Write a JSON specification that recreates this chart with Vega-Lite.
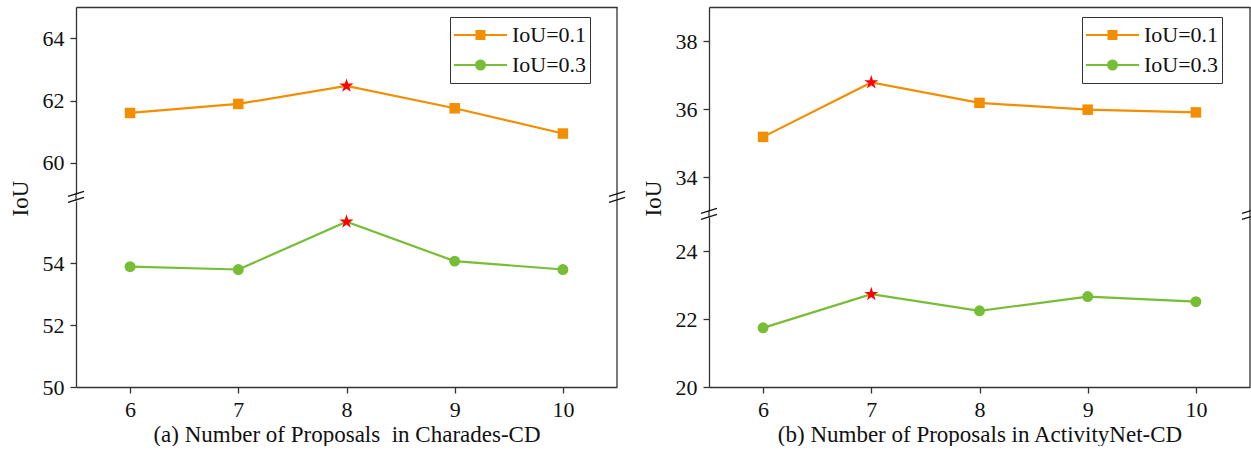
{
  "$schema": "https://vega.github.io/schema/vega-lite/v6.json",
  "padding": {"left": 9, "top": 6, "right": 0, "bottom": 0},
  "background": "white",
  "config": {
    "font": "Liberation Serif",
    "view": {"stroke": null},
    "axis": {
      "labelFont": "Liberation Serif", "titleFont": "Liberation Serif",
      "labelFontSize": 22, "titleFontSize": 23, "titleFontWeight": "normal",
      "labelColor": "#111111", "titleColor": "#111111",
      "domainColor": "#333333", "domainWidth": 1.3, "tickColor": "#333333", "tickWidth": 1.3,
      "tickSize": 6, "grid": false
    },
    "legend": {"labelFont": "Liberation Serif", "labelFontSize": 22, "labelColor": "#111111"}
  },
  "spacing": 16,
  "resolve": {"scale": {"y": "independent", "color": "independent", "x": "independent"}, "legend": {"color": "independent"}},
  "hconcat": [
    {
      "spacing": 7,
      "bounds": "flush",
      "data": {"values": [
        {"series": "IoU=0.1", "proposals": 6, "iou": 61.6, "best": 0},
        {"series": "IoU=0.1", "proposals": 7, "iou": 61.89, "best": 0},
        {"series": "IoU=0.1", "proposals": 8, "iou": 62.47, "best": 1},
        {"series": "IoU=0.1", "proposals": 9, "iou": 61.75, "best": 0},
        {"series": "IoU=0.1", "proposals": 10, "iou": 60.94, "best": 0},
        {"series": "IoU=0.3", "proposals": 6, "iou": 53.88, "best": 0},
        {"series": "IoU=0.3", "proposals": 7, "iou": 53.79, "best": 0},
        {"series": "IoU=0.3", "proposals": 8, "iou": 55.33, "best": 1},
        {"series": "IoU=0.3", "proposals": 9, "iou": 54.06, "best": 0},
        {"series": "IoU=0.3", "proposals": 10, "iou": 53.79, "best": 0}
      ]},
      "resolve": {"scale": {"y": "independent", "color": "independent"}},
      "vconcat": [
        {
          "width": 541, "height": 187,
          "transform": [{"filter": "datum.series == 'IoU=0.1'"}],
          "layer": [
            {
              "mark": {"type": "line", "strokeWidth": 2.2},
              "encoding": {
                "x": {"field": "proposals", "type": "quantitative", "scale": {"domain": [5.5, 10.5], "nice": false, "zero": false},
                      "axis": {"orient": "top", "labels": false, "ticks": false, "title": null}},
                "y": {"field": "iou", "type": "quantitative", "scale": {"domain": [59, 65], "nice": false, "zero": false},
                      "axis": {"values": [60, 62, 64], "title": "IoU", "labelPadding": 6, "titlePadding": 10, "titleY": 191}},
                "color": {"field": "series", "type": "nominal", "scale": {"domain": ["IoU=0.1", "IoU=0.3"], "range": ["#f28e00", "#77bd35"]},
                          "legend": {"title": null, "orient": "none", "legendX": 374, "legendY": 10, "symbolSize": 2809, "symbolStrokeWidth": 2,
                                     "clipHeight": 30, "labelOffset": 4, "padding": 3, "rowPadding": 0,
                                     "fillColor": "white", "strokeColor": "#333333",
                                     "encode": {"symbols": {"update": {
                                       "shape": {"signal": "datum.value === 'IoU=0.1' ? 'M -1 0 L 1 0 M -0.15 -0.15 L 0.15 -0.15 L 0.15 0.15 L -0.15 0.15 Z' : 'M -1 0 L 1 0 M -0.17 0 A 0.17 0.17 0 1 0 0.17 0 A 0.17 0.17 0 1 0 -0.17 0 Z'"},
                                       "fill": {"signal": "datum.value === 'IoU=0.1' ? '#f28e00' : '#77bd35'"},
                                       "stroke": {"signal": "datum.value === 'IoU=0.1' ? '#f28e00' : '#77bd35'"},
                                       "fillOpacity": {"value": 1}, "opacity": {"value": 1}
                                     }}}}}
              }
            },
            {
              "transform": [{"filter": "datum.best == 0"}],
              "mark": {"type": "point", "shape": "square", "filled": true, "opacity": 1, "size": 110},
              "encoding": {
                "x": {"field": "proposals", "type": "quantitative"},
                "y": {"field": "iou", "type": "quantitative"},
                "color": {"field": "series", "type": "nominal"}
              }
            },
            {
              "transform": [{"filter": "datum.best == 1"}],
              "mark": {"type": "point", "shape": "M 0 -1 L 0.2245 -0.309 L 0.951 -0.309 L 0.363 0.118 L 0.588 0.809 L 0 0.382 L -0.588 0.809 L -0.363 0.118 L -0.951 -0.309 L -0.2245 -0.309 Z", "filled": true, "color": "#ff0000", "opacity": 1, "size": 220},
              "encoding": {
                "x": {"field": "proposals", "type": "quantitative"},
                "y": {"field": "iou", "type": "quantitative"}
              }
            },
            {
              "data": {"values": [{"edge": 10.5}]},
              "mark": {"type": "rule", "color": "#333333", "strokeWidth": 1.3},
              "encoding": {
                "x": {"field": "edge", "type": "quantitative"},
                "y": {"datum": 59, "type": "quantitative"},
                "y2": {"datum": 65}
              }
            }
          ]
        },
        {
          "width": 541, "height": 186,
          "transform": [{"filter": "datum.series == 'IoU=0.3'"}],
          "layer": [
            {
              "mark": {"type": "line", "strokeWidth": 2.2},
              "encoding": {
                "x": {"field": "proposals", "type": "quantitative", "scale": {"domain": [5.5, 10.5], "nice": false, "zero": false},
                      "axis": {"values": [6, 7, 8, 9, 10], "format": "d", "title": "(a) Number of Proposals\u00a0 in Charades-CD", "labelPadding": 6, "titlePadding": 3}},
                "y": {"field": "iou", "type": "quantitative", "scale": {"domain": [50, 56], "nice": false, "zero": false},
                      "axis": {"values": [50, 52, 54], "title": "IoU", "titleOpacity": 0, "labelPadding": 6, "titlePadding": 10}},
                "color": {"field": "series", "type": "nominal", "scale": {"domain": ["IoU=0.1", "IoU=0.3"], "range": ["#f28e00", "#77bd35"]}, "legend": null}
              }
            },
            {
              "transform": [{"filter": "datum.best == 0"}],
              "mark": {"type": "point", "shape": "circle", "filled": true, "opacity": 1, "size": 120},
              "encoding": {
                "x": {"field": "proposals", "type": "quantitative"},
                "y": {"field": "iou", "type": "quantitative"},
                "color": {"field": "series", "type": "nominal"}
              }
            },
            {
              "transform": [{"filter": "datum.best == 1"}],
              "mark": {"type": "point", "shape": "M 0 -1 L 0.2245 -0.309 L 0.951 -0.309 L 0.363 0.118 L 0.588 0.809 L 0 0.382 L -0.588 0.809 L -0.363 0.118 L -0.951 -0.309 L -0.2245 -0.309 Z", "filled": true, "color": "#ff0000", "opacity": 1, "size": 220},
              "encoding": {
                "x": {"field": "proposals", "type": "quantitative"},
                "y": {"field": "iou", "type": "quantitative"}
              }
            },
            {
              "data": {"values": [{"edge": 10.5}]},
              "mark": {"type": "rule", "color": "#333333", "strokeWidth": 1.3},
              "encoding": {
                "x": {"field": "edge", "type": "quantitative"},
                "y": {"datum": 50, "type": "quantitative"},
                "y2": {"datum": 56}
              }
            },
            {
              "data": {"values": [{"edge": 5.5}, {"edge": 10.5}]},
              "mark": {"type": "rule", "color": "#333333", "strokeWidth": 1.3},
              "encoding": {
                "x": {"field": "edge", "type": "quantitative"},
                "y": {"datum": 56, "type": "quantitative"},
                "y2": {"datum": 56.24}
              }
            },
            {
              "data": {"values": [{"edge": 5.5}, {"edge": 10.5}]},
              "mark": {"type": "rule", "color": "#111111", "strokeWidth": 1.3, "xOffset": -8, "x2Offset": 8, "yOffset": -0.5, "y2Offset": -5.5},
              "encoding": {
                "x": {"field": "edge", "type": "quantitative"},
                "x2": {"field": "edge"},
                "y": {"datum": 56.13, "type": "quantitative"},
                "y2": {"datum": 56.13}
              }
            },
            {
              "data": {"values": [{"edge": 5.5}, {"edge": 10.5}]},
              "mark": {"type": "rule", "color": "#111111", "strokeWidth": 1.3, "xOffset": -8, "x2Offset": 8, "yOffset": 5.5, "y2Offset": 0.5},
              "encoding": {
                "x": {"field": "edge", "type": "quantitative"},
                "x2": {"field": "edge"},
                "y": {"datum": 56.13, "type": "quantitative"},
                "y2": {"datum": 56.13}
              }
            }
          ]
        }
      ]
    },
    {
      "spacing": 6,
      "bounds": "flush",
      "data": {"values": [
        {"series": "IoU=0.1", "proposals": 6, "iou": 35.18, "best": 0},
        {"series": "IoU=0.1", "proposals": 7, "iou": 36.78, "best": 1},
        {"series": "IoU=0.1", "proposals": 8, "iou": 36.18, "best": 0},
        {"series": "IoU=0.1", "proposals": 9, "iou": 35.98, "best": 0},
        {"series": "IoU=0.1", "proposals": 10, "iou": 35.9, "best": 0},
        {"series": "IoU=0.3", "proposals": 6, "iou": 21.74, "best": 0},
        {"series": "IoU=0.3", "proposals": 7, "iou": 22.73, "best": 1},
        {"series": "IoU=0.3", "proposals": 8, "iou": 22.24, "best": 0},
        {"series": "IoU=0.3", "proposals": 9, "iou": 22.66, "best": 0},
        {"series": "IoU=0.3", "proposals": 10, "iou": 22.51, "best": 0}
      ]},
      "resolve": {"scale": {"y": "independent", "color": "independent"}},
      "vconcat": [
        {
          "width": 541, "height": 204,
          "transform": [{"filter": "datum.series == 'IoU=0.1'"}],
          "layer": [
            {
              "mark": {"type": "line", "strokeWidth": 2.2},
              "encoding": {
                "x": {"field": "proposals", "type": "quantitative", "scale": {"domain": [5.5, 10.5], "nice": false, "zero": false},
                      "axis": {"orient": "top", "labels": false, "ticks": false, "title": null}},
                "y": {"field": "iou", "type": "quantitative", "scale": {"domain": [33, 39], "nice": false, "zero": false},
                      "axis": {"values": [34, 36, 38], "title": "IoU", "labelPadding": 6, "titlePadding": 10, "titleY": 191}},
                "color": {"field": "series", "type": "nominal", "scale": {"domain": ["IoU=0.1", "IoU=0.3"], "range": ["#f28e00", "#77bd35"]},
                          "legend": {"title": null, "orient": "none", "legendX": 373, "legendY": 10, "symbolSize": 2809, "symbolStrokeWidth": 2,
                                     "clipHeight": 30, "labelOffset": 4, "padding": 3, "rowPadding": 0,
                                     "fillColor": "white", "strokeColor": "#333333",
                                     "encode": {"symbols": {"update": {
                                       "shape": {"signal": "datum.value === 'IoU=0.1' ? 'M -1 0 L 1 0 M -0.15 -0.15 L 0.15 -0.15 L 0.15 0.15 L -0.15 0.15 Z' : 'M -1 0 L 1 0 M -0.17 0 A 0.17 0.17 0 1 0 0.17 0 A 0.17 0.17 0 1 0 -0.17 0 Z'"},
                                       "fill": {"signal": "datum.value === 'IoU=0.1' ? '#f28e00' : '#77bd35'"},
                                       "stroke": {"signal": "datum.value === 'IoU=0.1' ? '#f28e00' : '#77bd35'"},
                                       "fillOpacity": {"value": 1}, "opacity": {"value": 1}
                                     }}}}}
              }
            },
            {
              "transform": [{"filter": "datum.best == 0"}],
              "mark": {"type": "point", "shape": "square", "filled": true, "opacity": 1, "size": 110},
              "encoding": {
                "x": {"field": "proposals", "type": "quantitative"},
                "y": {"field": "iou", "type": "quantitative"},
                "color": {"field": "series", "type": "nominal"}
              }
            },
            {
              "transform": [{"filter": "datum.best == 1"}],
              "mark": {"type": "point", "shape": "M 0 -1 L 0.2245 -0.309 L 0.951 -0.309 L 0.363 0.118 L 0.588 0.809 L 0 0.382 L -0.588 0.809 L -0.363 0.118 L -0.951 -0.309 L -0.2245 -0.309 Z", "filled": true, "color": "#ff0000", "opacity": 1, "size": 220},
              "encoding": {
                "x": {"field": "proposals", "type": "quantitative"},
                "y": {"field": "iou", "type": "quantitative"}
              }
            },
            {
              "data": {"values": [{"edge": 10.5}]},
              "mark": {"type": "rule", "color": "#333333", "strokeWidth": 1.3},
              "encoding": {
                "x": {"field": "edge", "type": "quantitative"},
                "y": {"datum": 33, "type": "quantitative"},
                "y2": {"datum": 39}
              }
            }
          ]
        },
        {
          "width": 541, "height": 170,
          "transform": [{"filter": "datum.series == 'IoU=0.3'"}],
          "layer": [
            {
              "mark": {"type": "line", "strokeWidth": 2.2},
              "encoding": {
                "x": {"field": "proposals", "type": "quantitative", "scale": {"domain": [5.5, 10.5], "nice": false, "zero": false},
                      "axis": {"values": [6, 7, 8, 9, 10], "format": "d", "title": "(b) Number of Proposals in ActivityNet-CD", "labelPadding": 6, "titlePadding": 3}},
                "y": {"field": "iou", "type": "quantitative", "scale": {"domain": [20, 25], "nice": false, "zero": false},
                      "axis": {"values": [20, 22, 24], "title": "IoU", "titleOpacity": 0, "labelPadding": 6, "titlePadding": 10}},
                "color": {"field": "series", "type": "nominal", "scale": {"domain": ["IoU=0.1", "IoU=0.3"], "range": ["#f28e00", "#77bd35"]}, "legend": null}
              }
            },
            {
              "transform": [{"filter": "datum.best == 0"}],
              "mark": {"type": "point", "shape": "circle", "filled": true, "opacity": 1, "size": 120},
              "encoding": {
                "x": {"field": "proposals", "type": "quantitative"},
                "y": {"field": "iou", "type": "quantitative"},
                "color": {"field": "series", "type": "nominal"}
              }
            },
            {
              "transform": [{"filter": "datum.best == 1"}],
              "mark": {"type": "point", "shape": "M 0 -1 L 0.2245 -0.309 L 0.951 -0.309 L 0.363 0.118 L 0.588 0.809 L 0 0.382 L -0.588 0.809 L -0.363 0.118 L -0.951 -0.309 L -0.2245 -0.309 Z", "filled": true, "color": "#ff0000", "opacity": 1, "size": 220},
              "encoding": {
                "x": {"field": "proposals", "type": "quantitative"},
                "y": {"field": "iou", "type": "quantitative"}
              }
            },
            {
              "data": {"values": [{"edge": 10.5}]},
              "mark": {"type": "rule", "color": "#333333", "strokeWidth": 1.3},
              "encoding": {
                "x": {"field": "edge", "type": "quantitative"},
                "y": {"datum": 20, "type": "quantitative"},
                "y2": {"datum": 25}
              }
            },
            {
              "data": {"values": [{"edge": 5.5}, {"edge": 10.5}]},
              "mark": {"type": "rule", "color": "#333333", "strokeWidth": 1.3},
              "encoding": {
                "x": {"field": "edge", "type": "quantitative"},
                "y": {"datum": 25, "type": "quantitative"},
                "y2": {"datum": 25.18}
              }
            },
            {
              "data": {"values": [{"edge": 5.5}, {"edge": 10.5}]},
              "mark": {"type": "rule", "color": "#111111", "strokeWidth": 1.3, "xOffset": -8, "x2Offset": 8, "yOffset": -0.5, "y2Offset": -5.5},
              "encoding": {
                "x": {"field": "edge", "type": "quantitative"},
                "x2": {"field": "edge"},
                "y": {"datum": 25.09, "type": "quantitative"},
                "y2": {"datum": 25.09}
              }
            },
            {
              "data": {"values": [{"edge": 5.5}, {"edge": 10.5}]},
              "mark": {"type": "rule", "color": "#111111", "strokeWidth": 1.3, "xOffset": -8, "x2Offset": 8, "yOffset": 5.5, "y2Offset": 0.5},
              "encoding": {
                "x": {"field": "edge", "type": "quantitative"},
                "x2": {"field": "edge"},
                "y": {"datum": 25.09, "type": "quantitative"},
                "y2": {"datum": 25.09}
              }
            }
          ]
        }
      ]
    }
  ]
}
